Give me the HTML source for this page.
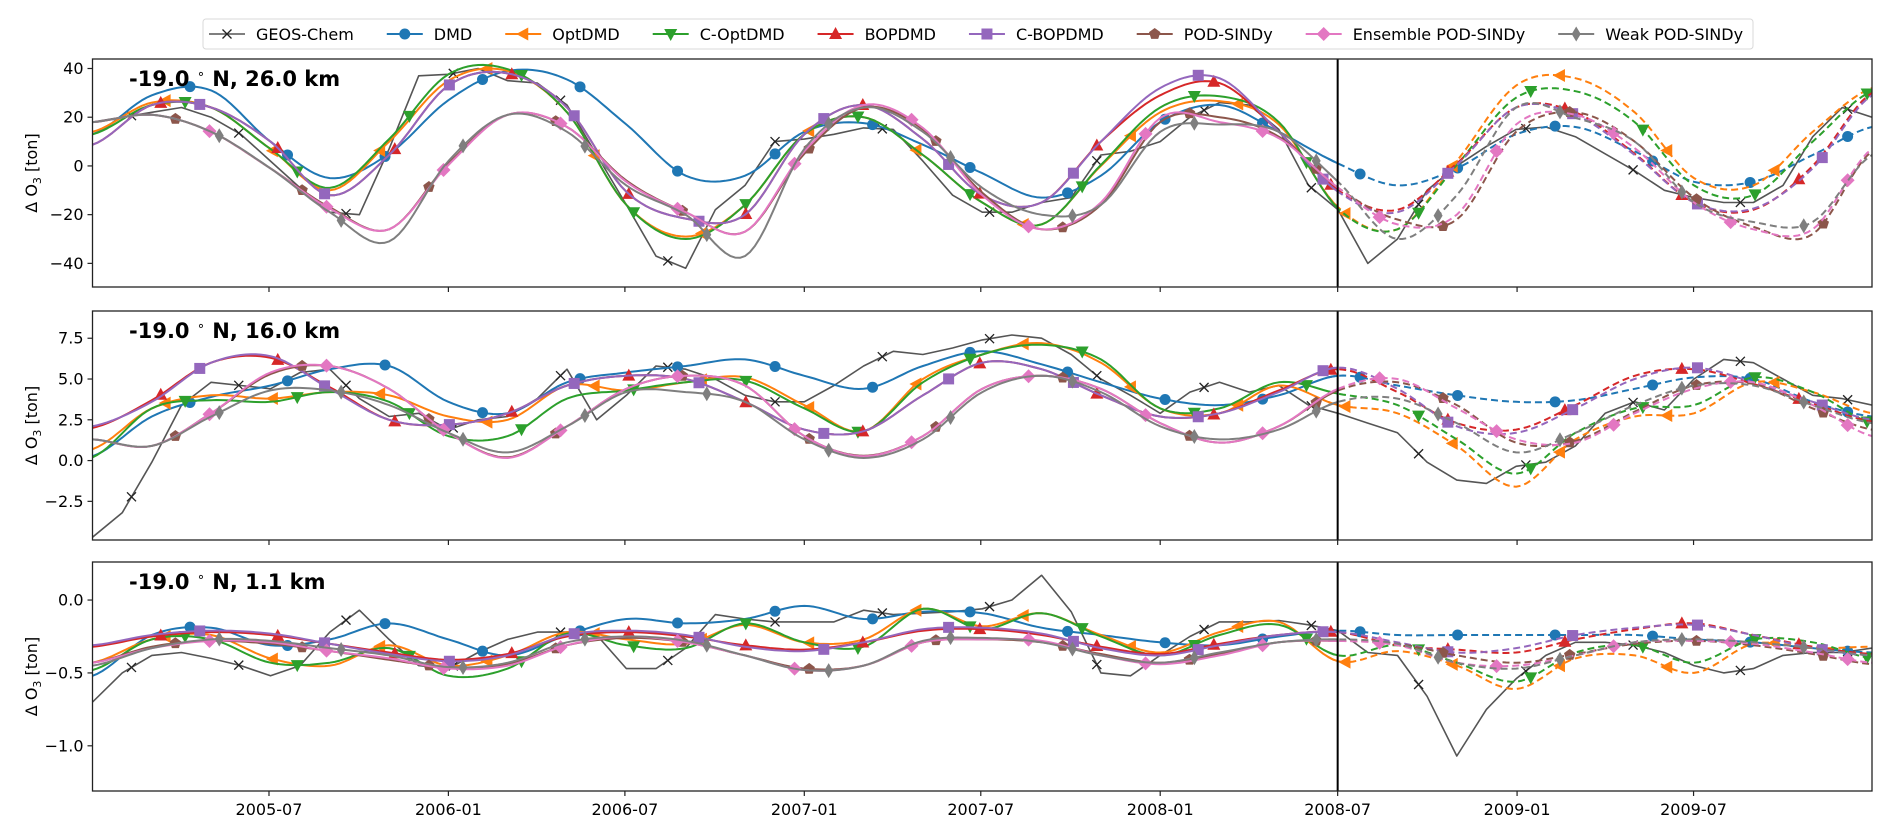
<!DOCTYPE html>
<html><head><meta charset="utf-8"><style>
html,body{margin:0;padding:0;background:#fff;}
svg{display:block;font-family:"DejaVu Sans","Liberation Sans",sans-serif;}
</style></head><body>
<svg id="chart" width="1892" height="834" viewBox="0 0 1892 834" xmlns="http://www.w3.org/2000/svg"></svg>
<script>
// ---------- data ----------
const seriesNames = ["GEOS-Chem","DMD","OptDMD","C-OptDMD","BOPDMD","C-BOPDMD","POD-SINDy","Ensemble POD-SINDy","Weak POD-SINDy"];
const panelTitles = ["-19.0","-19.0","-19.0"];
const panelAlt = ["26.0 km","16.0 km","1.1 km"];
const xTickLabels = ["2005-07","2006-01","2006-07","2007-01","2007-07","2008-01","2008-07","2009-01","2009-07"];
const xTickDays = [181,365,546,730,911,1095,1277,1461,1642];
const trainEndDay = 1277;
const p1Ticks = [40,20,0,-20,-40];
const p2Ticks = [7.5,5.0,2.5,0.0,-2.5];
const p3Ticks = [0.0,-0.5,-1.0];

// GEOS-Chem monthly values (m0..m60)
const geos1 = [18,20,22,24,20,13,2,-9,-19,-20,7,37,37.6,40,35,34,25,4.5,-16,-37,-42,-18,-8,10,11,13,15.6,15,2,-12,-19,-19,-15,-13,4.5,6,10,20,26,25,15,-8,-18,-40,-30,-10,0,8,15,16,12,5,-2,-10,-13,-15,-15,-8,12,24,20];
const geos2 = [-4.7,-3.2,-0.1,3.4,4.8,4.6,4.4,5.4,5.6,3.8,2.7,2.9,1.9,2.5,2.7,3.8,5.6,2.5,4.0,5.8,5.6,5.0,4.0,3.6,3.6,4.6,5.8,6.7,6.5,6.9,7.4,7.7,7.5,6.5,5.0,4.0,2.9,4.2,4.8,4.2,4.6,3.4,2.9,2.3,1.7,-0.1,-1.2,-1.4,-0.35,-0.1,0.9,2.9,3.6,3.1,5.0,6.2,6.0,5.0,4.0,3.8,3.4];
const geos3 = [-0.70,-0.50,-0.38,-0.36,-0.40,-0.45,-0.52,-0.45,-0.22,-0.07,-0.27,-0.45,-0.47,-0.36,-0.27,-0.22,-0.22,-0.24,-0.47,-0.47,-0.33,-0.10,-0.13,-0.15,-0.15,-0.15,-0.07,-0.10,-0.09,-0.08,-0.06,0.0,0.17,-0.08,-0.50,-0.52,-0.38,-0.25,-0.15,-0.15,-0.14,-0.17,-0.21,-0.36,-0.38,-0.66,-1.07,-0.75,-0.54,-0.38,-0.29,-0.29,-0.31,-0.36,-0.45,-0.50,-0.47,-0.38,-0.36,-0.36,-0.33];

// model values every 2 months (m0,m2,...,m60)
const dmd1 = [13,29,31,10,-5,5,27,39,35.5,17,-4,-4,14,17.6,8.7,-3,-13,-4,18,25,14,1,-8,-1,13,16,6,-6.5,-6.5,4.5,16];
const opt1 = [14,26,24,7,-10,10,35,39,22,-16,-29,-16,13,20,4.5,-15,-24,0,22,26.6,17,-17,-26,2,33,36,22,-5,-8,14,32];
const copt1 = [13,25,24,7,-9,11,37.6,39.7,22,-16,-30,-16,13,20,4.5,-15,-24,0.4,24,28.6,18,-17.5,-26,0.4,28,30.7,18,-8,-12,10,30.7];
const bop1 = [8.7,25,24,10,-12,4.5,33,38,24,-10.6,-21.6,-20,13,25,11,-12,-15,10,29,34,14,-10,-18,1,24,22,5,-15,-18,0,30];
const cbop1 = [8.7,25,24,10,-12,4.5,33,38,24,-10.6,-21.6,-20,13,25,11,-12,-15,10,32,36,14,-10.6,-19,0.4,24,21,4.5,-15,-17.5,-1,29];
const pod1 = [18,21,14,-1,-17,-26,1,21,16,-6,-19,-27,5,24,15,-11,-26,-16,18,20,12,-9,-22,-22,14,22,10,-13,-25,-28,6];
const ens1 = [18,21,14,-1,-17.5,-26,0.4,21,16,-6.5,-19,-27,6,25,15.6,-12,-26,-15,19.7,18,11.4,-9,-24,-20,17,21,7.3,-15,-26,-26,7];
const weak1 = [18,21,14,-1,-19,-31,2,21,14,-8,-20,-37,7,24,14,-9,-20,-16,14,17,14,-6.5,-30,-12,24,19.7,10,-15,-23,-23,4.5];

const dmd2 = [0.27,2.7,3.9,4.6,5.6,5.8,3.6,2.9,4.8,5.4,5.8,6.2,5.2,4.4,5.8,6.7,5.9,4.8,3.8,3.4,4.0,5.2,4.6,4.0,3.6,3.7,4.4,5.1,5.0,3.6,2.7];
const opt2 = [0.7,3.2,4.0,3.8,4.2,4.0,2.7,2.5,4.6,4.3,4.8,5.1,3.4,1.8,5.0,6.5,7.2,6.0,3.2,2.9,4.6,3.4,2.9,0.9,-1.6,1.3,2.7,2.9,4.8,4.2,2.9];
const copt2 = [0.2,3.2,3.7,3.6,4.2,3.6,1.5,1.5,3.8,4.3,4.8,4.9,3.2,1.8,4.8,6.5,7.1,6.2,3.2,3.2,4.8,4.1,3.4,1.3,-0.8,1.7,3.2,3.4,5.1,4.2,2.3];
const bop2 = [2.0,3.7,6.0,6.3,4.5,2.5,2.2,2.9,4.6,5.2,5.0,3.6,1.9,1.8,4.0,6.0,5.6,4.0,2.7,2.9,4.3,5.6,4.2,2.3,1.9,3.4,5.2,5.6,4.7,3.5,2.4];
const cbop2 = [2.1,3.6,6.0,6.4,4.4,2.5,2.2,2.9,4.6,5.2,5.0,3.6,1.9,1.8,4.0,6.0,5.6,4.0,2.7,2.9,4.2,5.7,4.4,2.1,1.7,3.2,5.0,5.7,4.8,3.6,2.5];
const pod2 = [1.3,0.9,2.9,5.3,5.8,4.4,1.7,0.2,2.1,4.4,5.2,4.6,1.5,0.3,1.5,4.4,5.2,4.4,2.3,1.1,2.1,4.3,4.8,3.4,1.1,1.2,3.0,4.6,4.7,3.2,1.9];
const ens2 = [1.3,0.9,2.9,5.4,5.8,4.4,1.7,0.16,2.1,4.4,5.2,4.6,1.5,0.27,1.5,4.4,5.2,4.4,2.3,1.1,2.1,4.4,5.0,3.2,1.3,1.1,2.9,4.4,4.8,3.4,1.5];
const weak2 = [1.3,0.9,2.7,4.3,4.3,3.4,1.7,0.5,2.1,4.2,4.2,3.6,1.3,0.16,1.3,4.2,5.2,4.2,2.1,1.3,1.9,3.6,3.8,2.3,0.5,1.7,3.4,4.6,4.6,3.4,2.3];

const dmd3 = [-0.52,-0.24,-0.19,-0.31,-0.27,-0.16,-0.27,-0.38,-0.24,-0.13,-0.16,-0.13,-0.04,-0.13,-0.08,-0.09,-0.19,-0.24,-0.29,-0.31,-0.25,-0.21,-0.24,-0.24,-0.24,-0.24,-0.24,-0.27,-0.29,-0.33,-0.36];
const opt3 = [-0.43,-0.27,-0.24,-0.40,-0.45,-0.31,-0.45,-0.38,-0.22,-0.27,-0.30,-0.17,-0.29,-0.27,-0.06,-0.18,-0.09,-0.24,-0.36,-0.22,-0.15,-0.42,-0.35,-0.45,-0.61,-0.40,-0.38,-0.50,-0.30,-0.33,-0.32];
const copt3 = [-0.48,-0.27,-0.27,-0.43,-0.43,-0.33,-0.52,-0.47,-0.23,-0.31,-0.33,-0.16,-0.29,-0.32,-0.06,-0.20,-0.09,-0.25,-0.38,-0.24,-0.17,-0.38,-0.31,-0.43,-0.56,-0.36,-0.31,-0.43,-0.27,-0.29,-0.40];
const bop3 = [-0.32,-0.25,-0.22,-0.24,-0.30,-0.36,-0.41,-0.37,-0.25,-0.22,-0.25,-0.31,-0.34,-0.29,-0.21,-0.20,-0.24,-0.32,-0.37,-0.30,-0.24,-0.22,-0.31,-0.34,-0.36,-0.27,-0.20,-0.16,-0.24,-0.32,-0.37];
const cbop3 = [-0.31,-0.24,-0.21,-0.23,-0.30,-0.37,-0.42,-0.38,-0.24,-0.21,-0.24,-0.32,-0.35,-0.29,-0.20,-0.19,-0.23,-0.33,-0.38,-0.31,-0.24,-0.22,-0.29,-0.36,-0.33,-0.24,-0.19,-0.17,-0.24,-0.33,-0.38];
const pod3 = [-0.43,-0.32,-0.28,-0.30,-0.35,-0.41,-0.46,-0.44,-0.31,-0.26,-0.29,-0.38,-0.47,-0.45,-0.29,-0.27,-0.29,-0.37,-0.43,-0.37,-0.29,-0.28,-0.30,-0.38,-0.43,-0.37,-0.30,-0.28,-0.31,-0.37,-0.44];
const ens3 = [-0.43,-0.33,-0.28,-0.29,-0.35,-0.40,-0.47,-0.45,-0.31,-0.25,-0.29,-0.38,-0.48,-0.45,-0.29,-0.27,-0.28,-0.38,-0.44,-0.38,-0.29,-0.28,-0.31,-0.43,-0.45,-0.38,-0.29,-0.28,-0.30,-0.36,-0.43];
const weak3 = [-0.45,-0.33,-0.27,-0.28,-0.33,-0.38,-0.46,-0.43,-0.29,-0.25,-0.28,-0.38,-0.48,-0.45,-0.28,-0.26,-0.29,-0.38,-0.43,-0.36,-0.29,-0.27,-0.30,-0.43,-0.47,-0.38,-0.29,-0.27,-0.29,-0.33,-0.38];

// ---------- layout / style ----------
const NS = "http://www.w3.org/2000/svg";
const svg = document.getElementById('chart');
const colors = ["#555555","#1f77b4","#ff7f0e","#2ca02c","#d62728","#9467bd","#8c564b","#e377c2","#7f7f7f"];
const markers = ["x","o","<","v","^","s","p","D","d"];
const mkStep = [110,100,110,115,120,128,130,120,125];
const mkStart = [40,100,75,95,70,110,85,120,130];
const panels = [
  {top:59,bottom:287,ymax:43.9,ymin:-49.7,ticks:p1Ticks,fmt:v=>v<0?"\u2212"+Math.abs(v):String(v),
   geos:geos1,models:[dmd1,opt1,copt1,bop1,cbop1,pod1,ens1,weak1]},
  {top:311,bottom:540,ymax:9.17,ymin:-4.87,ticks:p2Ticks,fmt:v=>(v<0?"\u2212":"")+Math.abs(v).toFixed(1),
   geos:geos2,models:[dmd2,opt2,copt2,bop2,cbop2,pod2,ens2,weak2]},
  {top:562,bottom:791,ymax:0.261,ymin:-1.31,ticks:p3Ticks,fmt:v=>(v<0?"\u2212":"")+Math.abs(v).toFixed(1),
   geos:geos3,models:[dmd3,opt3,copt3,bop3,cbop3,pod3,ens3,weak3]}
];
const X0=92.5, X1=1872, D0=0, D1=1825;
const xScale = d => X0 + (d-D0)/(D1-D0)*(X1-X0);
const MONTH = D1/60;

function el(tag, attrs, parent){
  const e = document.createElementNS(NS, tag);
  for (const k in attrs) e.setAttribute(k, attrs[k]);
  (parent||svg).appendChild(e);
  return e;
}

// Catmull-Rom dense sampling
function dense(vals, stepDays){
  const pts=[]; const n=vals.length;
  for(let i=0;i<n-1;i++){
    const p0=vals[Math.max(0,i-1)], p1=vals[i], p2=vals[i+1], p3=vals[Math.min(n-1,i+2)];
    const S=12;
    for(let s=0;s<S;s++){
      const t=s/S, t2=t*t, t3=t2*t;
      const v=0.5*((2*p1)+(-p0+p2)*t+(2*p0-5*p1+4*p2-p3)*t2+(-p0+3*p1-3*p2+p3)*t3);
      pts.push([(i+t)*stepDays, v]);
    }
  }
  pts.push([(n-1)*stepDays, vals[n-1]]);
  return pts;
}
function valAt(pts, d){
  for(let i=0;i<pts.length-1;i++){
    if(d>=pts[i][0] && d<=pts[i+1][0]){
      const f=(d-pts[i][0])/(pts[i+1][0]-pts[i][0]);
      return pts[i][1]+f*(pts[i+1][1]-pts[i][1]);
    }
  }
  return pts[pts.length-1][1];
}

function drawMarker(g, type, cx, cy, color){
  let m;
  if(type==="o") m=el('circle',{cx:cx,cy:cy,r:5.5,fill:color},g);
  else if(type==="s") m=el('rect',{x:cx-5.5,y:cy-5.5,width:11,height:11,fill:color},g);
  else if(type==="^") m=el('polygon',{points:`${cx},${cy-7} ${cx-6.5},${cy+5} ${cx+6.5},${cy+5}`,fill:color},g);
  else if(type==="v") m=el('polygon',{points:`${cx},${cy+7} ${cx-6.5},${cy-5} ${cx+6.5},${cy-5}`,fill:color},g);
  else if(type==="<") m=el('polygon',{points:`${cx-7},${cy} ${cx+5},${cy-6.5} ${cx+5},${cy+6.5}`,fill:color},g);
  else if(type==="D") m=el('polygon',{points:`${cx},${cy-7} ${cx+7},${cy} ${cx},${cy+7} ${cx-7},${cy}`,fill:color},g);
  else if(type==="d") m=el('polygon',{points:`${cx},${cy-7.5} ${cx+4.5},${cy} ${cx},${cy+7.5} ${cx-4.5},${cy}`,fill:color},g);
  else if(type==="p"){
    let p=[]; for(let k=0;k<5;k++){const a=-Math.PI/2+k*2*Math.PI/5; p.push((cx+6*Math.cos(a)).toFixed(1)+","+(cy+6*Math.sin(a)).toFixed(1));}
    m=el('polygon',{points:p.join(" "),fill:color},g);
  } else if(type==="x"){
    m=el('path',{d:`M${cx-4.5},${cy-4.5}L${cx+4.5},${cy+4.5}M${cx-4.5},${cy+4.5}L${cx+4.5},${cy-4.5}`,stroke:"#222",'stroke-width':1.3,fill:"none"},g);
  }
  return m;
}

function pathFrom(pts, yS){
  return pts.map((p,i)=>(i?"L":"M")+xScale(p[0]).toFixed(1)+","+yS(p[1]).toFixed(1)).join("");
}

// ---------- legend ----------
const lg = el('g',{},svg);


const lbox = el('rect',{x:203,y:19,width:1559,height:30,rx:3,fill:"#fff",stroke:"#d9d9d9",'stroke-width':1},lg);


let lx = 209;
seriesNames.forEach((nm,i)=>{
  const ge = el('g',{},lg);
  
  
  el('line',{x1:lx,y1:34,x2:lx+36,y2:34,stroke:colors[i],'stroke-width':i===0?1.6:2},ge);
  drawMarker(ge, markers[i], lx+18, 34, colors[i]);
  const t = el('text',{x:lx+47,y:40,'font-size':16,fill:"#000"},ge);
  t.textContent = nm;
  lx = lx + 47 + t.getComputedTextLength() + 33;
});
lbox.setAttribute('width', (lx-33+10-203).toFixed(0));

// ---------- panels ----------
panels.forEach((P,pi)=>{
  const g = el('g',{},svg);
  
  
  const yS = v => P.bottom - (v-P.ymin)/(P.ymax-P.ymin)*(P.bottom-P.top);
  const clipId='clip'+pi;
  const cp = el('clipPath',{id:clipId},g);
  el('rect',{x:X0,y:P.top,width:X1-X0,height:P.bottom-P.top},cp);
  const plot = el('g',{'clip-path':`url(#${clipId})`},g);
  
  

  // GEOS-Chem
  const gp = dense(P.geos, MONTH).filter((p,i)=>i%4===0 || true);
  const gl = el('path',{d:P.geos.map((v,i)=>(i?"L":"M")+xScale(i*MONTH).toFixed(1)+","+yS(v).toFixed(1)).join(""),fill:"none",stroke:colors[0],'stroke-width':1.6,'stroke-linejoin':'round'},plot);
  
  
  for(let d=mkStart[0]; d<=D1; d+=mkStep[0]){
    const v = valAt(P.geos.map((vv,i)=>[i*MONTH,vv]), d);
    const mk = drawMarker(plot,'x',xScale(d),yS(v),colors[0]);
    
    
  }

  // models
  P.models.forEach((vals,mi)=>{
    const si = mi+1;
    const pts = dense(vals, 2*MONTH);
    const train = pts.filter(p=>p[0]<=trainEndDay+1);
    const fore = pts.filter(p=>p[0]>=trainEndDay-10);
    const slug = seriesNames[si].toLowerCase().replace(/\s+/g,'-');
    const l1 = el('path',{d:pathFrom(train,yS),fill:"none",stroke:colors[si],'stroke-width':2,'stroke-linejoin':'round'},plot);
    
    
    const l2 = el('path',{d:pathFrom(fore,yS),fill:"none",stroke:colors[si],'stroke-width':2,'stroke-dasharray':'7,4'},plot);
    
    
    for(let d=mkStart[si]; d<=D1; d+=mkStep[si]){
      const mk = drawMarker(plot, markers[si], xScale(d), yS(valAt(pts,d)), colors[si]);
      
      
    }
  });

  // train/forecast divider
  const vl = el('line',{x1:xScale(trainEndDay),y1:P.top,x2:xScale(trainEndDay),y2:P.bottom,stroke:"#000",'stroke-width':2},g);
  
  

  // frame
  const fr = el('rect',{x:X0,y:P.top,width:X1-X0,height:P.bottom-P.top,fill:"none",stroke:"#222",'stroke-width':1.3},g);
  
  

  // y ticks
  P.ticks.forEach(v=>{
    const y=yS(v);
    el('line',{x1:X0-5,y1:y,x2:X0,y2:y,stroke:"#222",'stroke-width':1.2},g);
    const t=el('text',{x:X0-9,y:y+5.5,'font-size':16,'text-anchor':'end',fill:"#000"},g);
    
    
    t.textContent=P.fmt(v);
  });
  // x ticks
  xTickDays.forEach((d,k)=>{
    const x=xScale(d);
    el('line',{x1:x,y1:P.bottom,x2:x,y2:P.bottom+5,stroke:"#222",'stroke-width':1.2},g);
    if(pi===2){
      const t=el('text',{x:x,y:P.bottom+24,'font-size':16,'text-anchor':'middle',fill:"#000"},g);
      
      
      t.textContent=xTickLabels[k];
    }
  });
  // y label
  const cy=(P.top+P.bottom)/2;
  const yl=el('text',{x:0,y:0,'font-size':16,'text-anchor':'middle',fill:"#000",transform:`translate(37,${cy}) rotate(-90)`},g);
  
  
  yl.innerHTML='\u0394 O<tspan font-size="11" dy="4">3</tspan><tspan dy="-4"> [ton]</tspan>';
  // title
  const tt=el('text',{x:129,y:P.top+27,'font-size':21,'font-weight':'bold',fill:"#000"},g);
  
  
  tt.innerHTML=panelTitles[pi]+' <tspan font-size="13" dy="-8" font-weight="normal">\u2218</tspan><tspan dy="8"> N, '+panelAlt[pi]+'</tspan>';
});
</script>
</body></html>
